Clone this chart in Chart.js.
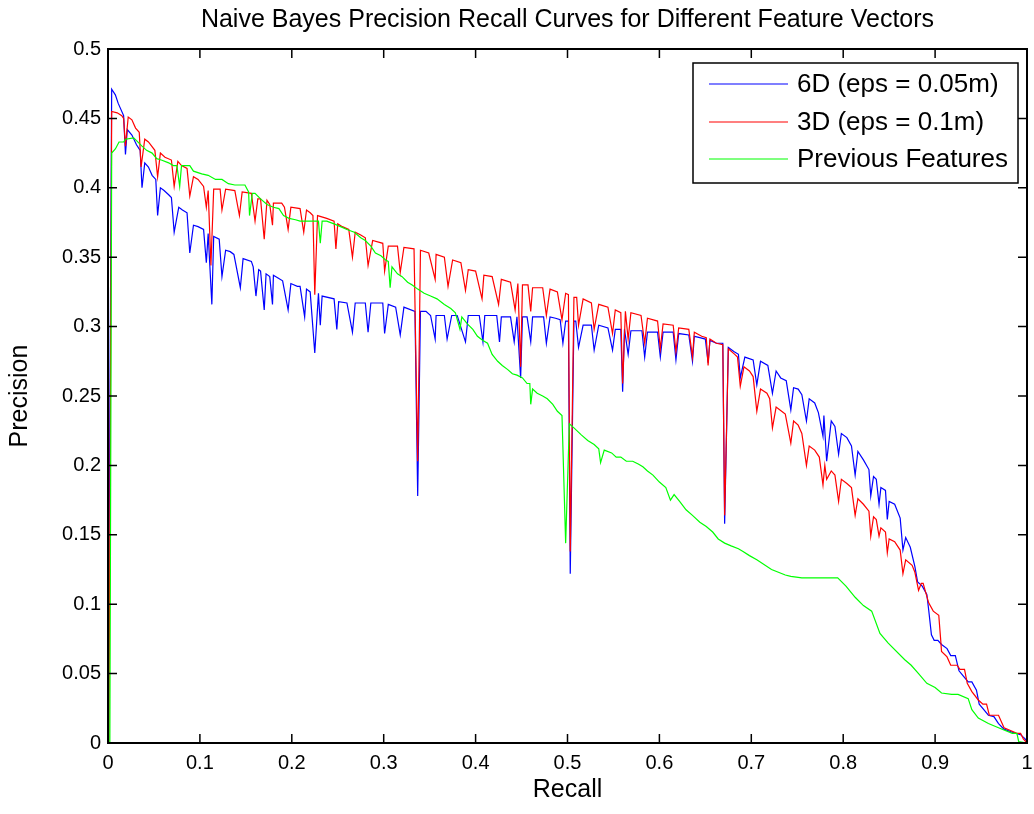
<!DOCTYPE html>
<html>
<head>
<meta charset="utf-8">
<title>Naive Bayes Precision Recall Curves</title>
<script src="https://cdn.jsdelivr.net/npm/chart.js@4.4.0/dist/chart.umd.min.js"></script>
<style>
  html, body { margin: 0; padding: 0; background: #fff; }
  #wrap { width: 1034px; height: 814px; }
</style>
</head>
<body>
<div id="wrap"><canvas id="prChart" width="1034" height="814"></canvas></div>
<script>
// series labels (legend order)
const seriesLabels = ['6D (eps = 0.05m)', '3D (eps = 0.1m)', 'Previous Features'];
const seriesColors = ['#0000ff', '#ff0000', '#00ff00'];

// tick values
const xTickValues = [0, 0.1, 0.2, 0.3, 0.4, 0.5, 0.6, 0.7, 0.8, 0.9, 1];
const yTickValues = [0, 0.05, 0.1, 0.15, 0.2, 0.25, 0.3, 0.35, 0.4, 0.45, 0.5];

// [recall, precision]
const sixD = [
  [0, 0], [0.004, 0.471], [0.008, 0.467], [0.011, 0.461], [0.017, 0.452], [0.019, 0.424], [0.021, 0.442], [0.026, 0.438], [0.031, 0.431], [0.035, 0.427],
  [0.037, 0.400], [0.040, 0.418], [0.044, 0.415], [0.048, 0.409], [0.052, 0.406], [0.054, 0.380], [0.057, 0.400], [0.061, 0.398], [0.066, 0.395], [0.069, 0.393],
  [0.072, 0.368], [0.077, 0.386], [0.081, 0.384], [0.086, 0.382], [0.089, 0.353], [0.093, 0.373], [0.098, 0.372], [0.104, 0.370], [0.107, 0.346], [0.109, 0.367],
  [0.113, 0.316], [0.115, 0.365], [0.121, 0.363], [0.124, 0.336], [0.128, 0.355], [0.133, 0.354], [0.137, 0.352], [0.144, 0.328], [0.147, 0.349], [0.156, 0.347],
  [0.158, 0.343], [0.161, 0.322], [0.164, 0.341], [0.166, 0.340], [0.170, 0.312], [0.172, 0.338], [0.176, 0.336], [0.179, 0.316], [0.180, 0.337], [0.185, 0.335],
  [0.190, 0.333], [0.196, 0.312], [0.199, 0.331], [0.206, 0.329], [0.209, 0.329], [0.214, 0.307], [0.216, 0.327], [0.220, 0.325], [0.225, 0.281], [0.229, 0.324],
  [0.231, 0.301], [0.233, 0.322], [0.246, 0.320], [0.249, 0.298], [0.251, 0.318], [0.260, 0.317], [0.266, 0.296], [0.269, 0.317], [0.280, 0.317], [0.283, 0.296],
  [0.286, 0.317], [0.299, 0.317], [0.301, 0.295], [0.305, 0.316], [0.313, 0.314], [0.318, 0.294], [0.322, 0.314], [0.334, 0.311], [0.337, 0.178], [0.340, 0.311],
  [0.346, 0.311], [0.351, 0.308], [0.356, 0.291], [0.357, 0.308], [0.366, 0.308], [0.369, 0.291], [0.374, 0.308], [0.380, 0.308], [0.389, 0.289], [0.392, 0.308],
  [0.404, 0.308], [0.408, 0.289], [0.410, 0.308], [0.423, 0.308], [0.426, 0.289], [0.428, 0.307], [0.438, 0.307], [0.442, 0.289], [0.445, 0.307], [0.449, 0.263],
  [0.451, 0.307], [0.456, 0.307], [0.460, 0.289], [0.462, 0.307], [0.474, 0.307], [0.477, 0.288], [0.481, 0.307], [0.487, 0.306], [0.492, 0.305], [0.495, 0.288],
  [0.498, 0.304], [0.501, 0.304], [0.503, 0.122], [0.507, 0.304], [0.509, 0.304], [0.512, 0.285], [0.517, 0.301], [0.526, 0.301], [0.529, 0.283], [0.534, 0.301],
  [0.544, 0.299], [0.549, 0.283], [0.552, 0.298], [0.558, 0.298], [0.560, 0.253], [0.562, 0.298], [0.566, 0.280], [0.569, 0.297], [0.581, 0.297], [0.584, 0.278],
  [0.587, 0.296], [0.598, 0.296], [0.601, 0.278], [0.604, 0.296], [0.615, 0.296], [0.618, 0.276], [0.621, 0.295], [0.632, 0.294], [0.636, 0.275], [0.638, 0.293],
  [0.644, 0.292], [0.650, 0.291], [0.653, 0.274], [0.655, 0.290], [0.662, 0.288], [0.669, 0.288], [0.671, 0.158], [0.675, 0.285], [0.681, 0.282], [0.686, 0.280],
  [0.688, 0.263], [0.693, 0.278], [0.702, 0.276], [0.706, 0.258], [0.710, 0.275], [0.718, 0.272], [0.723, 0.252], [0.727, 0.268], [0.732, 0.263], [0.738, 0.261],
  [0.743, 0.240], [0.746, 0.256], [0.751, 0.255], [0.755, 0.251], [0.760, 0.232], [0.763, 0.248], [0.769, 0.245], [0.773, 0.238], [0.778, 0.221], [0.779, 0.236],
  [0.782, 0.203], [0.787, 0.232], [0.791, 0.228], [0.795, 0.208], [0.798, 0.223], [0.804, 0.220], [0.809, 0.214], [0.813, 0.193], [0.816, 0.210], [0.822, 0.204],
  [0.828, 0.197], [0.830, 0.178], [0.833, 0.192], [0.836, 0.190], [0.839, 0.172], [0.841, 0.184], [0.846, 0.182], [0.848, 0.161], [0.850, 0.174], [0.856, 0.172],
  [0.862, 0.162], [0.865, 0.139], [0.868, 0.148], [0.873, 0.141], [0.878, 0.127], [0.881, 0.116], [0.886, 0.113], [0.891, 0.107], [0.893, 0.096], [0.896, 0.078],
  [0.899, 0.074], [0.903, 0.074], [0.907, 0.071], [0.913, 0.068], [0.917, 0.063], [0.922, 0.063], [0.926, 0.052], [0.931, 0.048], [0.936, 0.044], [0.940, 0.044],
  [0.945, 0.038], [0.948, 0.028], [0.953, 0.024], [0.958, 0.020], [0.964, 0.019], [0.969, 0.014], [0.975, 0.010], [0.987, 0.007], [0.993, 0.006], [0.998, 0.003],
  [1.000, 0.001]
];

const threeD = [
  [0.001, 0], [0.004, 0.455], [0.010, 0.454], [0.015, 0.452], [0.017, 0.450], [0.019, 0.430], [0.022, 0.451], [0.026, 0.449], [0.030, 0.443], [0.034, 0.440],
  [0.036, 0.415], [0.040, 0.435], [0.044, 0.433], [0.051, 0.427], [0.054, 0.408], [0.057, 0.425], [0.062, 0.422], [0.069, 0.420], [0.072, 0.401], [0.076, 0.419],
  [0.080, 0.416], [0.086, 0.414], [0.089, 0.394], [0.093, 0.408], [0.098, 0.406], [0.104, 0.401], [0.107, 0.386], [0.109, 0.398], [0.112, 0.344], [0.115, 0.399],
  [0.122, 0.399], [0.124, 0.384], [0.128, 0.399], [0.138, 0.398], [0.143, 0.380], [0.146, 0.397], [0.156, 0.396], [0.160, 0.376], [0.163, 0.392], [0.166, 0.392],
  [0.170, 0.363], [0.173, 0.391], [0.176, 0.388], [0.179, 0.373], [0.180, 0.389], [0.189, 0.389], [0.192, 0.386], [0.196, 0.370], [0.199, 0.386], [0.209, 0.385],
  [0.213, 0.368], [0.216, 0.384], [0.220, 0.382], [0.223, 0.380], [0.225, 0.323], [0.228, 0.380], [0.238, 0.378], [0.246, 0.376], [0.248, 0.356], [0.250, 0.374],
  [0.255, 0.372], [0.262, 0.370], [0.266, 0.350], [0.269, 0.368], [0.275, 0.366], [0.280, 0.364], [0.283, 0.344], [0.288, 0.362], [0.299, 0.360], [0.301, 0.340],
  [0.305, 0.358], [0.315, 0.358], [0.318, 0.339], [0.322, 0.357], [0.333, 0.356], [0.337, 0.203], [0.340, 0.355], [0.349, 0.353], [0.356, 0.334], [0.357, 0.352],
  [0.366, 0.350], [0.370, 0.329], [0.375, 0.348], [0.384, 0.346], [0.389, 0.326], [0.392, 0.341], [0.400, 0.340], [0.407, 0.320], [0.409, 0.337], [0.418, 0.336],
  [0.425, 0.316], [0.428, 0.334], [0.438, 0.332], [0.443, 0.312], [0.446, 0.331], [0.449, 0.271], [0.451, 0.330], [0.457, 0.330], [0.460, 0.311], [0.462, 0.328],
  [0.473, 0.328], [0.477, 0.308], [0.481, 0.327], [0.489, 0.325], [0.494, 0.305], [0.498, 0.324], [0.501, 0.323], [0.503, 0.138], [0.507, 0.321], [0.510, 0.321],
  [0.512, 0.301], [0.517, 0.320], [0.526, 0.317], [0.529, 0.298], [0.534, 0.316], [0.544, 0.314], [0.549, 0.295], [0.552, 0.312], [0.558, 0.310], [0.560, 0.259],
  [0.563, 0.311], [0.566, 0.291], [0.569, 0.310], [0.580, 0.308], [0.584, 0.288], [0.587, 0.306], [0.598, 0.304], [0.601, 0.284], [0.604, 0.302], [0.615, 0.301],
  [0.618, 0.282], [0.621, 0.299], [0.632, 0.298], [0.636, 0.278], [0.638, 0.296], [0.646, 0.293], [0.651, 0.292], [0.653, 0.272], [0.655, 0.291], [0.662, 0.288],
  [0.669, 0.287], [0.671, 0.164], [0.675, 0.284], [0.682, 0.280], [0.685, 0.278], [0.688, 0.257], [0.692, 0.271], [0.698, 0.268], [0.702, 0.264], [0.706, 0.239],
  [0.710, 0.255], [0.717, 0.252], [0.720, 0.248], [0.723, 0.227], [0.727, 0.242], [0.733, 0.239], [0.737, 0.237], [0.743, 0.216], [0.746, 0.232], [0.751, 0.229],
  [0.755, 0.223], [0.760, 0.200], [0.763, 0.214], [0.769, 0.211], [0.774, 0.206], [0.778, 0.186], [0.780, 0.200], [0.782, 0.190], [0.787, 0.196], [0.791, 0.193],
  [0.795, 0.174], [0.798, 0.190], [0.804, 0.187], [0.809, 0.184], [0.813, 0.164], [0.816, 0.176], [0.822, 0.172], [0.828, 0.167], [0.830, 0.149], [0.833, 0.163],
  [0.836, 0.161], [0.839, 0.149], [0.841, 0.155], [0.846, 0.152], [0.848, 0.137], [0.850, 0.147], [0.856, 0.145], [0.862, 0.139], [0.865, 0.122], [0.868, 0.132],
  [0.875, 0.128], [0.878, 0.123], [0.882, 0.110], [0.885, 0.115], [0.887, 0.115], [0.890, 0.108], [0.893, 0.101], [0.898, 0.095], [0.904, 0.092], [0.906, 0.075],
  [0.907, 0.066], [0.913, 0.062], [0.917, 0.056], [0.924, 0.056], [0.927, 0.053], [0.932, 0.053], [0.935, 0.043], [0.940, 0.037], [0.947, 0.031], [0.952, 0.028],
  [0.956, 0.028], [0.959, 0.020], [0.969, 0.020], [0.975, 0.011], [0.982, 0.009], [0.989, 0.007], [0.993, 0.007], [0.996, 0.003], [1.000, 0.000]
];

const previousFeatures = [
  [0.002, 0], [0.004, 0.425], [0.008, 0.428], [0.012, 0.433], [0.017, 0.433], [0.019, 0.435], [0.028, 0.436], [0.031, 0.434], [0.037, 0.430], [0.042, 0.427],
  [0.048, 0.425], [0.053, 0.421], [0.058, 0.420], [0.066, 0.418], [0.071, 0.416], [0.075, 0.416], [0.078, 0.401], [0.080, 0.416], [0.089, 0.416], [0.093, 0.412],
  [0.102, 0.410], [0.109, 0.409], [0.117, 0.406], [0.124, 0.406], [0.131, 0.403], [0.138, 0.402], [0.149, 0.402], [0.153, 0.397], [0.154, 0.380], [0.157, 0.396],
  [0.160, 0.396], [0.166, 0.392], [0.173, 0.388], [0.180, 0.386], [0.186, 0.385], [0.191, 0.380], [0.197, 0.378], [0.204, 0.377], [0.209, 0.376], [0.229, 0.376],
  [0.231, 0.360], [0.233, 0.376], [0.238, 0.376], [0.246, 0.374], [0.253, 0.372], [0.260, 0.370], [0.268, 0.368], [0.275, 0.364], [0.280, 0.362], [0.286, 0.358],
  [0.291, 0.353], [0.297, 0.351], [0.302, 0.348], [0.305, 0.347], [0.307, 0.328], [0.309, 0.343], [0.315, 0.338], [0.320, 0.336], [0.326, 0.332], [0.331, 0.330],
  [0.337, 0.327], [0.344, 0.324], [0.351, 0.322], [0.358, 0.320], [0.366, 0.316], [0.373, 0.313], [0.378, 0.310], [0.383, 0.298], [0.385, 0.307], [0.391, 0.302],
  [0.397, 0.298], [0.402, 0.293], [0.408, 0.290], [0.413, 0.288], [0.418, 0.280], [0.424, 0.275], [0.429, 0.272], [0.435, 0.269], [0.440, 0.266], [0.445, 0.265],
  [0.451, 0.263], [0.456, 0.259], [0.459, 0.259], [0.460, 0.244], [0.462, 0.255], [0.467, 0.252], [0.473, 0.250], [0.478, 0.248], [0.484, 0.244], [0.489, 0.239],
  [0.494, 0.236], [0.498, 0.144], [0.502, 0.230], [0.507, 0.227], [0.515, 0.222], [0.522, 0.218], [0.529, 0.215], [0.534, 0.212], [0.536, 0.202], [0.540, 0.211],
  [0.548, 0.209], [0.553, 0.206], [0.558, 0.206], [0.564, 0.203], [0.571, 0.203], [0.577, 0.201], [0.582, 0.199], [0.587, 0.196], [0.593, 0.193], [0.600, 0.188],
  [0.607, 0.184], [0.612, 0.175], [0.616, 0.179], [0.622, 0.174], [0.629, 0.168], [0.636, 0.164], [0.644, 0.159], [0.651, 0.156], [0.658, 0.152], [0.664, 0.147],
  [0.671, 0.144], [0.678, 0.142], [0.686, 0.140], [0.691, 0.138], [0.698, 0.135], [0.706, 0.132], [0.722, 0.125], [0.737, 0.121], [0.743, 0.120], [0.755, 0.119],
  [0.794, 0.119], [0.803, 0.113], [0.813, 0.105], [0.822, 0.099], [0.831, 0.095], [0.840, 0.079], [0.849, 0.072], [0.867, 0.060], [0.874, 0.056], [0.882, 0.050],
  [0.891, 0.043], [0.900, 0.040], [0.907, 0.036], [0.918, 0.035], [0.925, 0.035], [0.936, 0.032], [0.940, 0.024], [0.947, 0.018], [0.958, 0.014], [0.969, 0.011],
  [0.984, 0.007], [0.989, 0.007], [0.991, 0.001], [1.000, 0.000]
];

const FONT = 'Liberation Sans, Arial, sans-serif';

function toPoints(pairs) {
  return pairs.map(([x, y]) => ({ x, y }));
}

function fmtTick(v) {
  return String(+Number(v).toFixed(2));
}

// MATLAB style box with inward tick marks on all four sides
const axesBox = {
  id: 'axesBox',
  afterDatasetsDraw(chart) {
    const { ctx, chartArea: a, scales } = chart;
    const len = 9;
    ctx.save();
    ctx.strokeStyle = '#000';
    ctx.lineWidth = 1.5;
    ctx.beginPath();
    xTickValues.forEach((v) => {
      const px = scales.x.getPixelForValue(v);
      ctx.moveTo(px, a.bottom);
      ctx.lineTo(px, a.bottom - len);
      ctx.moveTo(px, a.top);
      ctx.lineTo(px, a.top + len);
    });
    yTickValues.forEach((v) => {
      const py = scales.y.getPixelForValue(v);
      ctx.moveTo(a.left, py);
      ctx.lineTo(a.left + len, py);
      ctx.moveTo(a.right, py);
      ctx.lineTo(a.right - len, py);
    });
    ctx.stroke();
    ctx.lineWidth = 2;
    ctx.strokeRect(a.left, a.top, a.right - a.left, a.bottom - a.top);
    ctx.restore();
  },
};

// boxed legend inside the top right corner
const boxedLegend = {
  id: 'boxedLegend',
  afterDraw(chart) {
    const { ctx, chartArea: a } = chart;
    const w = 325;
    const h = 120;
    const x0 = a.right - 9 - w;
    const y0 = a.top + 14;
    ctx.save();
    ctx.fillStyle = '#fff';
    ctx.fillRect(x0, y0, w, h);
    ctx.strokeStyle = '#000';
    ctx.lineWidth = 1.5;
    ctx.strokeRect(x0, y0, w, h);
    ctx.font = '26px ' + FONT;
    ctx.textBaseline = 'middle';
    ctx.textAlign = 'left';
    const rows = [21, 59, 96];
    chart.data.datasets.forEach((ds, i) => {
      const y = y0 + rows[i];
      ctx.strokeStyle = ds.borderColor;
      ctx.lineWidth = 1.2;
      ctx.beginPath();
      ctx.moveTo(x0 + 16, y);
      ctx.lineTo(x0 + 95, y);
      ctx.stroke();
      ctx.fillStyle = '#000';
      ctx.fillText(ds.label, x0 + 104, y + 1);
    });
    ctx.restore();
  },
};

const seriesData = [sixD, threeD, previousFeatures];

new Chart(document.getElementById('prChart'), {
  type: 'line',
  data: {
    datasets: seriesData.map((pairs, i) => ({
      label: seriesLabels[i],
      data: toPoints(pairs),
      borderColor: seriesColors[i],
      backgroundColor: seriesColors[i],
      borderWidth: 1.2,
      pointRadius: 0,
      tension: 0,
      fill: false,
      clip: 3,
      order: 3 - i, // later series drawn on top
    })),
  },
  options: {
    responsive: false,
    animation: false,
    devicePixelRatio: 1,
    events: [],
    layout: { padding: { left: 0, right: 7, top: 0, bottom: 0 } },
    plugins: {
      legend: { display: false },
      tooltip: { enabled: false },
      title: {
        display: true,
        text: 'Naive Bayes Precision Recall Curves for Different Feature Vectors',
        fullSize: false,
        color: '#000',
        font: { family: FONT, size: 25, weight: 'normal', lineHeight: 1.2 },
        padding: { top: 5, bottom: 14 },
      },
    },
    scales: {
      x: {
        type: 'linear',
        min: 0,
        max: 1,
        afterBuildTicks: (s) => { s.ticks = xTickValues.map((v) => ({ value: v })); },
        afterFit: (s) => { s.height = 71; s.paddingLeft = 0; s.paddingRight = 0; },
        grid: { display: false, drawTicks: false },
        border: { display: false },
        ticks: {
          autoSkip: false,
          maxRotation: 0,
          padding: 8,
          color: '#000',
          font: { family: FONT, size: 20, lineHeight: 1.2 },
          callback: fmtTick,
        },
        title: {
          display: true,
          text: 'Recall',
          color: '#000',
          font: { family: FONT, size: 25, lineHeight: 1.2 },
          padding: { top: 0, bottom: 9 },
        },
      },
      y: {
        type: 'linear',
        min: 0,
        max: 0.5,
        afterBuildTicks: (s) => { s.ticks = yTickValues.map((v) => ({ value: v })); },
        afterFit: (s) => { s.width = 108; },
        grid: { display: false, drawTicks: false },
        border: { display: false },
        ticks: {
          autoSkip: false,
          padding: 7,
          color: '#000',
          font: { family: FONT, size: 20, lineHeight: 1.2 },
          callback: fmtTick,
        },
        title: {
          display: true,
          text: 'Precision',
          color: '#000',
          font: { family: FONT, size: 25, lineHeight: 1.2 },
          padding: { top: 5, bottom: 0 },
        },
      },
    },
  },
  plugins: [axesBox, boxedLegend],
});
</script>
</body>
</html>
